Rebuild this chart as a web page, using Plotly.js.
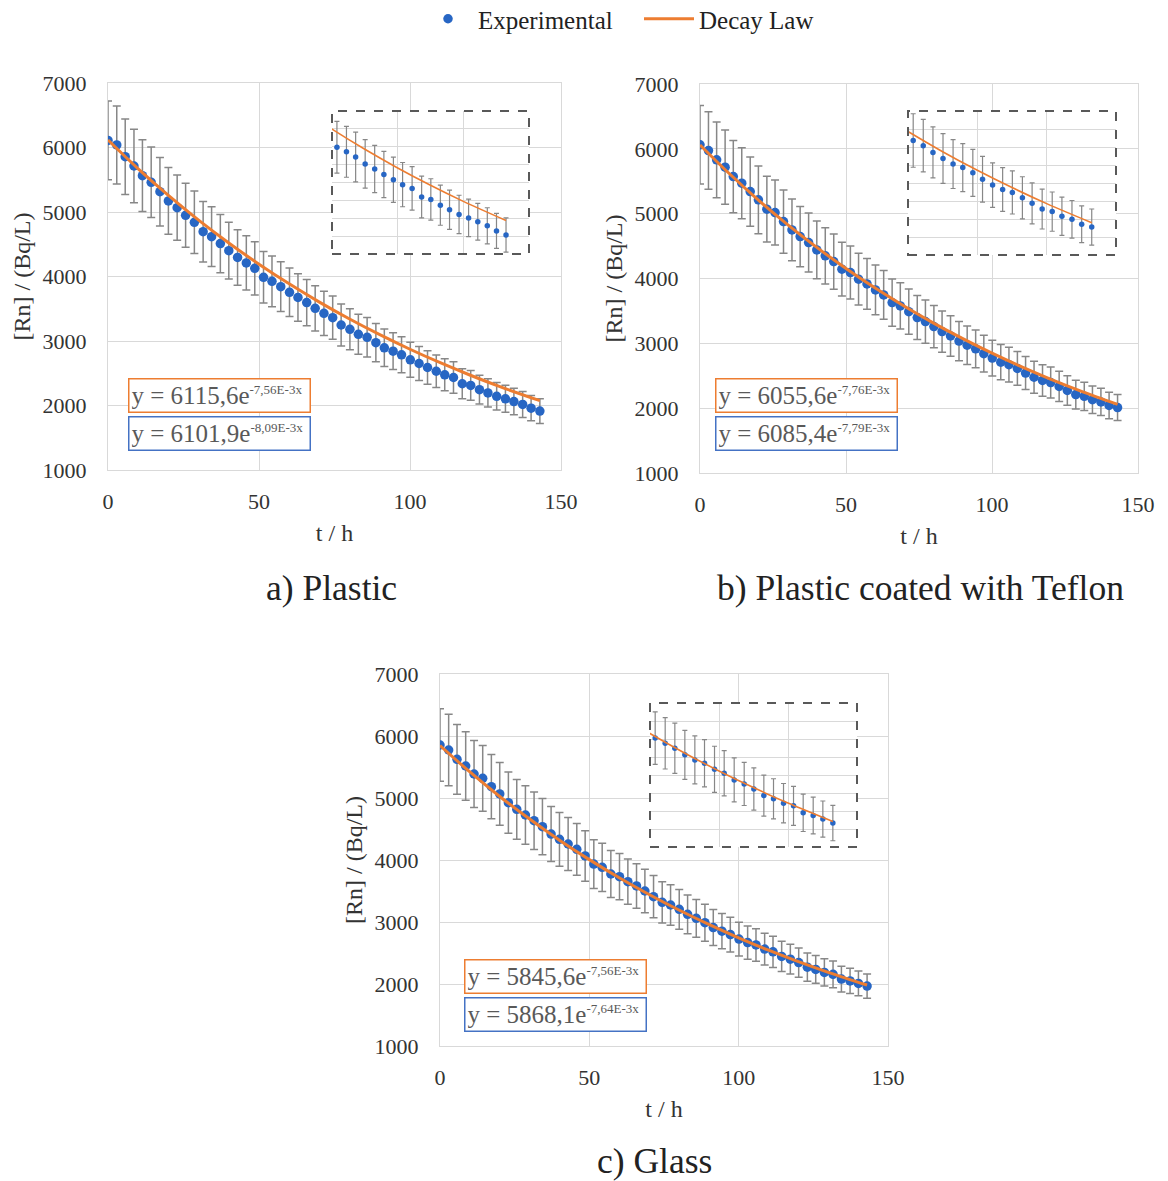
<!DOCTYPE html>
<html><head><meta charset="utf-8">
<script src="https://cdn.plot.ly/plotly-3.0.1.min.js"></script>
<style>html,body{margin:0;padding:0;background:#fff}#chart{width:1168px;height:1181px}</style>
</head><body><div id="chart"></div>
<script>
// ---------- data ----------
const time_h = [0, 2.9, 5.7, 8.6, 11.4, 14.3, 17.2, 20.0, 22.9, 25.7, 28.6, 31.5, 34.3, 37.2, 40.0, 42.9, 45.8, 48.6, 51.5, 54.3,
  57.2, 60.1, 62.9, 65.8, 68.6, 71.5, 74.4, 77.2, 80.1, 82.9, 85.8, 88.7, 91.5, 94.4, 97.2, 100.1, 103.0, 105.8, 108.7, 111.5,
  114.4, 117.3, 120.1, 123.0, 125.8, 128.7, 131.6, 134.4, 137.3, 140.1, 143.0];

const plastic_exp = [6110, 6039, 5857, 5713, 5563, 5460, 5315, 5171, 5067, 4949, 4840, 4695, 4618, 4510, 4400, 4295, 4210, 4127, 3987, 3925,
  3843, 3755, 3675, 3595, 3507, 3430, 3362, 3248, 3181, 3104, 3057, 2974, 2895, 2843, 2786, 2708, 2651, 2589, 2531, 2476,
  2434, 2337, 2311, 2246, 2195, 2143, 2104, 2061, 2016, 1958, 1913];

const teflon_exp = [6062, 5974, 5830, 5717, 5573, 5470, 5341, 5213, 5069, 5017, 4878, 4750, 4647, 4554, 4441, 4349, 4261, 4144, 4091, 3989,
  3917, 3824, 3747, 3628, 3577, 3489, 3397, 3335, 3258, 3181, 3114, 3035, 2972, 2915, 2840, 2772, 2710, 2671, 2613, 2542,
  2477, 2428, 2395, 2336, 2274, 2210, 2182, 2130, 2096, 2042, 2010];

const glass_exp = [5855, 5774, 5624, 5516, 5387, 5317, 5183, 5065, 4925, 4817, 4726, 4634, 4538, 4419, 4333, 4258, 4172, 4065, 3935, 3882,
  3774, 3731, 3650, 3581, 3500, 3408, 3317, 3274, 3204, 3124, 3059, 2989, 2910, 2852, 2797, 2724, 2668, 2630, 2563, 2519,
  2445, 2401, 2345, 2271, 2235, 2187, 2157, 2080, 2050, 2010, 1966];

const law_t = [0, 10, 20, 30, 40, 50, 60, 70, 80, 90, 100, 110, 120, 130, 143];
const plastic_law = [6116, 5670, 5258, 4875, 4520, 4191, 3886, 3603, 3341, 3098, 2872, 2663, 2469, 2289, 2075];
const teflon_law  = [6060, 5619, 5210, 4832, 4480, 4155, 3852, 3572, 3312, 3072, 2848, 2641, 2449, 2271, 2059];
const glass_law   = [5846, 5420, 5025, 4660, 4320, 4006, 3714, 3444, 3193, 2961, 2745, 2545, 2360, 2188, 1983];

const x_ticks = [0, 50, 100, 150];
const y_ticks = [1000, 2000, 3000, 4000, 5000, 6000, 7000];
const inset_x_ticks = [90, 110, 130, 150];
const inset_y_ticks = [1700, 1900, 2100, 2300, 2500, 2700, 2900, 3100, 3300];

const panel_captions = ['a) Plastic', 'b) Plastic coated with Teflon', 'c) Glass'];
const law_eq_base = ['y = 6115,6e', 'y = 6055,6e', 'y = 5845,6e'];
const law_eq_exp  = ['-7,56E-3x', '-7,76E-3x', '-7,56E-3x'];
const exp_eq_base = ['y = 6101,9e', 'y = 6085,4e', 'y = 5868,1e'];
const exp_eq_exp  = ['-8,09E-3x', '-7,79E-3x', '-7,64E-3x'];
const series_names = ['Experimental', 'Decay Law'];

// ---------- layout geometry (pixels) ----------
const W = 1168, H = 1181;
const FONT = '"Liberation Serif", "Times New Roman", serif';
const BLUE = '#2766c4', ORANGE = '#ED7D31', GRID = '#d9d9d9', TXT = '#333333';
const px = v => v / W, py = v => 1 - v / H;

const panels = [
  {exp: plastic_exp, law: plastic_law, main: [108, 561, 83, 470], inset: [332, 529, 111, 254], eq: [128, 378], cap: [331, 588]},
  {exp: teflon_exp,  law: teflon_law,  main: [700, 1138, 84, 473], inset: [908, 1116, 111, 255], eq: [715, 378], cap: [920, 588]},
  {exp: glass_exp,   law: glass_law,   main: [440, 888, 674, 1046], inset: [650, 857, 703, 847], eq: [464, 959], cap: [654, 1161]}
];

const traces = [];
const layout = {
  width: W, height: H,
  margin: {l: 0, r: 0, t: 0, b: 0, autoexpand: false},
  paper_bgcolor: '#ffffff', plot_bgcolor: '#ffffff',
  font: {family: FONT, color: TXT},
  showlegend: true,
  legend: {orientation: 'h', x: 418 / W, y: 1 + 4 / H, xanchor: 'left', yanchor: 'top',
    font: {family: FONT, size: 25, color: '#222'}, bgcolor: 'rgba(0,0,0,0)', itemwidth: 50,
    entrywidth: 156, entrywidthmode: 'pixels'},
  annotations: [], shapes: []
};

panels.forEach((p, i) => {
  const mi = i + 1, ii = i + 4;
  const mx = mi === 1 ? 'x' : 'x' + mi, my = mi === 1 ? 'y' : 'y' + mi;
  const ix = 'x' + ii, iy = 'y' + ii;
  const mxk = mi === 1 ? 'xaxis' : 'xaxis' + mi, myk = mi === 1 ? 'yaxis' : 'yaxis' + mi;

  layout[mxk] = {domain: [px(p.main[0]), px(p.main[1])], anchor: my, range: [0, 150], tickvals: x_ticks,
    showgrid: true, gridcolor: GRID, gridwidth: 1, zeroline: false, showline: true, mirror: true,
    linecolor: GRID, linewidth: 1, ticks: 'outside', ticklen: 12, tickcolor: 'rgba(0,0,0,0)',
    tickfont: {family: FONT, size: 22, color: TXT},
    title: {text: 't / h', font: {family: FONT, size: 24, color: TXT}, standoff: 10}};
  layout[myk] = {domain: [py(p.main[3]), py(p.main[2])], anchor: mx, range: [1000, 7000], tickvals: y_ticks,
    showgrid: true, gridcolor: GRID, gridwidth: 1, zeroline: false, showline: true, mirror: true,
    linecolor: GRID, linewidth: 1, ticks: 'outside', ticklen: 16, tickcolor: 'rgba(0,0,0,0)',
    tickfont: {family: FONT, size: 22, color: TXT},
    title: {text: '[Rn] / (Bq/L)', font: {family: FONT, size: 24, color: TXT}, standoff: 5}};

  layout['xaxis' + ii] = {domain: [px(p.inset[0]), px(p.inset[1])], anchor: iy, range: [90, 150], tickvals: inset_x_ticks,
    showticklabels: false, showgrid: true, gridcolor: GRID, gridwidth: 1, zeroline: false, showline: false, ticks: ''};
  layout['yaxis' + ii] = {domain: [py(p.inset[3]), py(p.inset[2])], anchor: ix, range: [1700, 3300], tickvals: inset_y_ticks,
    showticklabels: false, showgrid: true, gridcolor: GRID, gridwidth: 1, zeroline: false, showline: false, ticks: ''};

  traces.push({x: time_h, y: p.exp, xaxis: mx, yaxis: my, type: 'scatter', mode: 'markers', name: series_names[0],
    showlegend: i === 0, marker: {color: BLUE, size: 9.5},
    error_y: {type: 'percent', value: 10, color: '#878787', thickness: 1.5, width: 4}});
  traces.push({x: law_t, y: p.law, xaxis: mx, yaxis: my, type: 'scatter', mode: 'lines', name: series_names[1],
    showlegend: i === 0, line: {color: ORANGE, width: 3, shape: 'spline'}});
  traces.push({x: time_h, y: p.exp, xaxis: ix, yaxis: iy, type: 'scatter', mode: 'markers', showlegend: false,
    marker: {color: BLUE, size: 5.5},
    error_y: {type: 'percent', value: 10, color: '#878787', thickness: 1.2, width: 2.5}});
  traces.push({x: law_t, y: p.law, xaxis: ix, yaxis: iy, type: 'scatter', mode: 'lines', showlegend: false,
    line: {color: ORANGE, width: 1.6, shape: 'spline'}});

  layout.shapes.push({type: 'rect', xref: ix + ' domain', yref: iy + ' domain', x0: 0, x1: 1, y0: 0, y1: 1,
    line: {color: '#595959', width: 2, dash: 'dash'}, layer: 'above'});

  const eqFont = {family: FONT, size: 25, color: '#595959'};
  layout.annotations.push({xref: 'paper', yref: 'paper', x: px(p.eq[0]), y: py(p.eq[1]), xanchor: 'left', yanchor: 'top',
    text: law_eq_base[i] + '<sup><span style="font-size:13px">' + law_eq_exp[i] + '</span></sup>',
    showarrow: false, align: 'left', width: 176, height: 28, borderpad: 2, bordercolor: ORANGE, borderwidth: 1.5,
    bgcolor: '#ffffff', font: eqFont});
  layout.annotations.push({xref: 'paper', yref: 'paper', x: px(p.eq[0]), y: py(p.eq[1] + 38), xanchor: 'left', yanchor: 'top',
    text: exp_eq_base[i] + '<sup><span style="font-size:13px">' + exp_eq_exp[i] + '</span></sup>',
    showarrow: false, align: 'left', width: 176, height: 28, borderpad: 2, bordercolor: '#4472C4', borderwidth: 1.5,
    bgcolor: '#ffffff', font: eqFont});

  layout.annotations.push({xref: 'paper', yref: 'paper', x: px(p.cap[0]), y: py(p.cap[1]), xanchor: 'center', yanchor: 'middle',
    text: panel_captions[i], showarrow: false, font: {family: FONT, size: 35.5, color: '#222'}});
});

Plotly.newPlot('chart', traces, layout, {displayModeBar: false, staticPlot: true});
</script>
</body></html>
